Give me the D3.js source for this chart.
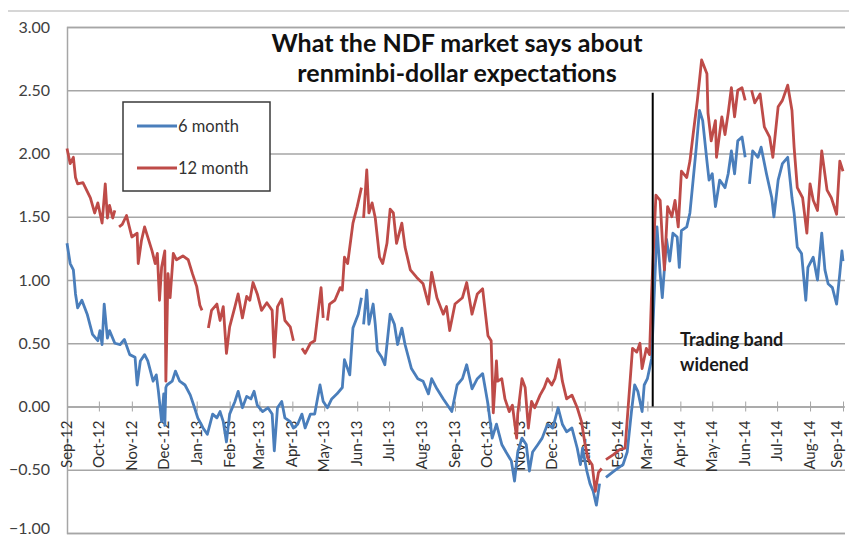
<!DOCTYPE html>
<html>
<head>
<meta charset="utf-8">
<script src="https://cdn.jsdelivr.net/npm/d3@7"></script>
<style>
  body { margin: 0; background: #fff; }
  svg { font-family: Lato, "Open Sans", sans-serif; }
</style>
</head>
<body>
<svg id="chart" width="849" height="541"></svg>
<script>
// 6 month NDF implied (%), gaps = null
const blueDates = ["2012-09-01","2012-09-04","2012-09-07","2012-09-09","2012-09-11","2012-09-15","2012-09-20","2012-09-25","2012-09-30",
  "2012-10-02","2012-10-04","2012-10-06","2012-10-09","2012-10-11","2012-10-16","2012-10-21","2012-10-25","2012-10-30",
  "2012-11-04","2012-11-06","2012-11-09","2012-11-13","2012-11-16","2012-11-21","2012-11-24","2012-11-26","2012-11-29",
  "2012-12-01","2012-12-02","2012-12-03","2012-12-04","2012-12-09","2012-12-12","2012-12-16","2012-12-21","2012-12-26","2012-12-30",
  "2013-01-02","2013-01-07","2013-01-11","2013-01-16","2013-01-20","2013-01-23","2013-01-26","2013-01-29",
  "2013-02-01","2013-02-06","2013-02-09","2013-02-13","2013-02-17","2013-02-21","2013-02-24","2013-02-27",
  "2013-03-04","2013-03-09","2013-03-13","2013-03-15","2013-03-18","2013-03-22","2013-03-25","2013-03-30",
  "2013-04-02","2013-04-06","2013-04-10","2013-04-13","2013-04-18","2013-04-22","2013-04-27","2013-04-30",
  "2013-05-04","2013-05-08","2013-05-13","2013-05-18","2013-05-20","2013-05-25","2013-05-28",
  "2013-06-02","2013-06-05","2013-06-06","2013-06-07","2013-06-10","2013-06-12","2013-06-16","2013-06-18","2013-06-20","2013-06-24","2013-06-27",
  "2013-07-02","2013-07-06","2013-07-09","2013-07-13","2013-07-16","2013-07-22","2013-07-28",
  "2013-08-02","2013-08-07","2013-08-10","2013-08-15","2013-08-21","2013-08-25","2013-08-29",
  "2013-09-03","2013-09-08","2013-09-12","2013-09-17","2013-09-22","2013-09-27",
  "2013-10-02","2013-10-06","2013-10-10","2013-10-15","2013-10-19","2013-10-24","2013-10-27","2013-10-30",
  "2013-11-03","2013-11-07","2013-11-10","2013-11-13","2013-11-18","2013-11-22","2013-11-27",
  "2013-12-02","2013-12-07","2013-12-11","2013-12-15","2013-12-20","2013-12-25","2013-12-28","2013-12-30",
  "2014-01-03","2014-01-06","2014-01-09","2014-01-12","2014-01-15","2014-01-18","2014-01-21","2014-01-27",
  "2014-02-01","2014-02-06","2014-02-10","2014-02-14","2014-02-17","2014-02-20","2014-02-24","2014-02-26",
  "2014-03-01","2014-03-05","2014-03-10","2014-03-13","2014-03-15","2014-03-19","2014-03-22","2014-03-25","2014-03-29","2014-03-31",
  "2014-04-02","2014-04-07","2014-04-10","2014-04-13","2014-04-16","2014-04-19","2014-04-22","2014-04-26","2014-04-28",
  "2014-05-01","2014-05-04","2014-05-08","2014-05-13","2014-05-16","2014-05-19","2014-05-22","2014-05-25","2014-05-29",
  "2014-06-01","2014-06-03","2014-06-05","2014-06-08","2014-06-13","2014-06-16","2014-06-21","2014-06-26","2014-06-28",
  "2014-07-02","2014-07-06","2014-07-11","2014-07-15","2014-07-17","2014-07-20","2014-07-24","2014-07-28","2014-07-30",
  "2014-08-04","2014-08-08","2014-08-12","2014-08-15","2014-08-18","2014-08-22","2014-08-26","2014-08-29","2014-08-31","2014-09-01"];
const blueValues = [1.29,1.13,1.08,0.89,0.78,0.84,0.73,0.57,0.52,
  0.60,0.49,0.81,0.54,0.60,0.50,0.49,0.53,0.41,
  0.39,0.17,0.36,0.41,0.36,0.20,0.25,0.12,-0.12,
  0.10,-0.15,0.15,0.17,0.20,0.28,0.20,0.17,0.09,-0.01,
  -0.09,-0.17,-0.22,-0.06,-0.09,-0.04,-0.12,-0.28,
  -0.06,0.04,0.12,-0.01,0.08,0.06,0.12,0.01,
  -0.04,-0.01,-0.06,-0.35,-0.01,0.04,-0.09,-0.12,
  -0.17,-0.14,-0.06,-0.17,-0.06,-0.06,0.17,0.04,
  -0.01,0.06,0.10,0.15,0.37,0.25,0.62,
  0.73,0.86,null,0.65,0.92,0.65,0.81,0.65,0.44,0.39,0.33,
  0.73,0.65,0.49,0.62,0.49,0.30,0.22,
  0.20,0.10,0.22,0.14,0.06,0.01,-0.04,
  0.17,0.22,0.33,0.14,0.22,0.26,
  0.02,-0.25,-0.14,-0.30,-0.36,-0.43,-0.59,-0.36,
  -0.25,-0.30,-0.51,-0.36,-0.30,-0.25,-0.14,
  -0.17,-0.01,-0.14,-0.20,-0.17,-0.33,-0.46,-0.33,
  -0.51,-0.61,-0.67,-0.78,-0.61,null,-0.56,-0.52,
  -0.49,-0.46,-0.36,-0.04,0.17,0.12,-0.04,0.17,
  0.22,0.38,1.42,1.05,0.86,1.32,1.15,1.37,1.34,1.10,
  1.39,1.42,1.53,1.79,2.05,2.34,2.26,1.94,1.79,
  1.84,1.58,1.79,1.73,1.84,2.02,1.84,2.10,2.13,
  1.97,null,1.76,2.02,1.97,2.05,1.84,1.65,1.50,
  1.79,1.92,1.97,1.65,1.53,1.26,1.21,0.84,1.10,
  1.18,1.00,1.37,1.08,0.97,0.94,0.81,1.05,1.23,1.15];

// 12 month NDF implied (%), gaps = null
const redDates = ["2012-09-01","2012-09-04","2012-09-07","2012-09-09","2012-09-11","2012-09-16","2012-09-23","2012-09-27","2012-09-30",
  "2012-10-04","2012-10-07","2012-10-09","2012-10-11","2012-10-14","2012-10-16","2012-10-18","2012-10-20","2012-10-23","2012-10-27",
  "2012-11-01","2012-11-06","2012-11-07","2012-11-10","2012-11-13","2012-11-20","2012-11-23","2012-11-25","2012-11-27","2012-11-29",
  "2012-12-02","2012-12-03","2012-12-05","2012-12-07","2012-12-10","2012-12-13","2012-12-19","2012-12-24","2012-12-28",
  "2013-01-01","2013-01-04","2013-01-06","2013-01-08","2013-01-12","2013-01-15","2013-01-20","2013-01-23","2013-01-26","2013-01-29",
  "2013-02-01","2013-02-06","2013-02-09","2013-02-13","2013-02-17","2013-02-20","2013-02-23","2013-02-27",
  "2013-03-03","2013-03-08","2013-03-13","2013-03-15","2013-03-18","2013-03-22","2013-03-25","2013-03-30",
  "2013-04-02","2013-04-05","2013-04-10","2013-04-13","2013-04-18","2013-04-22","2013-04-25","2013-04-28","2013-04-30",
  "2013-05-02","2013-05-04","2013-05-06","2013-05-11","2013-05-16","2013-05-18","2013-05-20","2013-05-23","2013-05-28",
  "2013-06-01","2013-06-05","2013-06-06","2013-06-07","2013-06-10","2013-06-12","2013-06-15","2013-06-18","2013-06-22","2013-06-25","2013-06-29",
  "2013-07-02","2013-07-05","2013-07-08","2013-07-13","2013-07-16","2013-07-21","2013-07-27",
  "2013-08-02","2013-08-07","2013-08-10","2013-08-15","2013-08-21","2013-08-24","2013-08-27",
  "2013-09-01","2013-09-08","2013-09-12","2013-09-17","2013-09-22","2013-09-27",
  "2013-10-02","2013-10-05","2013-10-07","2013-10-10","2013-10-11","2013-10-15","2013-10-18","2013-10-22","2013-10-25","2013-10-29","2013-10-30",
  "2013-11-03","2013-11-06","2013-11-09","2013-11-12","2013-11-15","2013-11-20","2013-11-24","2013-11-27",
  "2013-12-01","2013-12-04","2013-12-08","2013-12-11","2013-12-15","2013-12-20","2013-12-25","2013-12-29",
  "2014-01-01","2014-01-04","2014-01-08","2014-01-11","2014-01-14","2014-01-17","2014-01-19","2014-01-21","2014-01-28",
  "2014-02-03","2014-02-08","2014-02-12","2014-02-15","2014-02-19","2014-02-22","2014-02-24","2014-02-28",
  "2014-03-03","2014-03-05","2014-03-09","2014-03-13","2014-03-15","2014-03-17","2014-03-20","2014-03-24","2014-03-27","2014-03-30",
  "2014-04-02","2014-04-07","2014-04-10","2014-04-13","2014-04-17","2014-04-21","2014-04-26","2014-04-27","2014-04-30",
  "2014-05-04","2014-05-05","2014-05-10","2014-05-13","2014-05-16","2014-05-19","2014-05-22","2014-05-25","2014-05-29",
  "2014-06-01","2014-06-04","2014-06-07","2014-06-10","2014-06-15","2014-06-19","2014-06-24","2014-06-27",
  "2014-07-02","2014-07-06","2014-07-11","2014-07-15","2014-07-17","2014-07-20","2014-07-25","2014-07-29",
  "2014-08-01","2014-08-04","2014-08-08","2014-08-12","2014-08-17","2014-08-21","2014-08-26","2014-08-29","2014-09-01"];
const redValues = [2.04,1.92,1.97,1.81,1.76,1.77,1.65,1.53,1.61,
  1.45,1.76,1.49,1.59,1.49,1.55,null,1.42,1.44,1.51,
  1.34,1.37,1.13,1.31,1.42,1.23,1.13,1.21,0.84,1.10,
  1.23,0.20,1.05,0.86,1.21,1.16,1.19,1.16,1.05,
  0.95,0.80,0.76,null,0.62,0.76,0.81,0.68,0.79,0.42,
  0.63,0.79,0.89,0.70,0.87,0.84,0.98,0.89,
  0.76,0.82,0.76,0.39,0.79,0.85,0.68,0.63,
  0.52,null,0.46,0.42,0.50,0.52,0.73,0.94,0.70,
  null,0.68,0.81,0.84,0.94,0.92,1.18,1.13,1.45,
  1.58,1.73,null,1.49,1.87,1.53,1.61,1.49,1.18,1.13,1.29,
  1.56,1.53,1.29,1.45,1.26,1.08,1.02,
  0.97,0.81,1.06,0.86,0.73,0.79,0.60,
  0.81,0.86,0.98,0.73,0.89,0.93,
  0.56,0.52,-0.05,0.36,0.20,0.22,0.06,-0.04,0.01,-0.25,-0.06,
  0.22,0.15,-0.17,0.04,-0.01,0.09,0.15,0.22,
  0.17,0.22,0.37,0.20,0.06,0.09,-0.01,-0.12,
  -0.28,-0.41,-0.46,-0.67,-0.52,-0.49,null,-0.42,-0.38,
  -0.34,-0.33,0.12,0.46,0.43,0.50,0.30,0.46,
  0.41,0.91,1.67,1.63,1.32,1.08,1.58,1.50,1.63,1.42,
  1.86,1.81,1.94,2.15,2.42,2.74,2.63,2.32,2.10,
  2.26,1.97,2.29,2.15,2.32,2.52,2.29,2.50,2.52,
  2.42,null,2.50,2.40,2.47,2.21,2.13,1.97,
  2.37,2.42,2.54,2.34,2.05,1.73,1.65,1.37,
  1.76,1.63,1.55,2.02,1.71,1.65,1.52,1.94,1.86];

const yTicks = [-1, -0.5, 0, 0.5, 1, 1.5, 2, 2.5, 3];
const seriesNames = ["6 month", "12 month"];
const seriesColors = ["#4a7ebb", "#be4b48"];
const bandDate = "2014-03-06";
const bandTop = 2.48;

const parse = d3.timeParse("%Y-%m-%d");
const svg = d3.select("#chart");

const x = d3.scaleTime()
  .domain([parse("2012-09-01"), parse("2014-09-01")])
  .range([67, 843]);
const y = d3.scaleLinear().domain([-1, 3]).range([533, 27]);

// top frame line
svg.append("line")
  .attr("x1", 8).attr("x2", 849).attr("y1", 11).attr("y2", 11)
  .attr("stroke", "#c8c8c8").attr("stroke-width", 1.5);

// y axis + gridlines
svg.append("g")
  .attr("transform", "translate(67,0)")
  .call(d3.axisLeft(y).tickValues(yTicks).tickFormat(d3.format(".2f"))
    .tickSize(-778).tickPadding(17))
  .call((g) => g.select(".domain").attr("stroke", "#a6a6a6").attr("stroke-width", 1.5))
  .call((g) => g.selectAll(".tick line").attr("stroke", "#a6a6a6").attr("stroke-width", 1.5))
  .call((g) => g.selectAll(".tick text")
    .attr("font-size", 16).attr("fill", "#404040")
    .attr("font-family", "Lato, sans-serif")
    // bottom label sits on the lower edge: lift it a touch
    .attr("dy", (d) => (d === -1 ? "0.05em" : "0.32em")));

// x axis on the zero line
const monthTicks = x.ticks(d3.timeMonth.every(1));
svg.append("g")
  .attr("transform", `translate(0,${y(0)})`)
  .call(d3.axisBottom(x).tickValues(monthTicks)
    .tickFormat(d3.timeFormat("%b-%y")).tickSize(5).tickSizeOuter(0))
  .call((g) => g.select(".domain").attr("stroke", "#a6a6a6").attr("stroke-width", 1.5))
  .call((g) => g.selectAll(".tick line").attr("stroke", "#a6a6a6").attr("y1", -5))
  .call((g) => g.selectAll(".tick text")
    .attr("transform", "rotate(-90)")
    .attr("text-anchor", "end")
    .attr("x", -14).attr("y", 0)
    // last label sits on the right edge: pull it in a little
    .attr("dy", (d, i) => (i === monthTicks.length - 1 ? "-0.1em" : "0.3em"))
    .attr("font-size", 15).attr("fill", "#303030")
    .attr("font-family", "Lato, sans-serif"));

// series
const blue = blueDates.map((d, i) => ({ date: parse(d), v: blueValues[i] }));
const red = redDates.map((d, i) => ({ date: parse(d), v: redValues[i] }));

const line = d3.line()
  .defined((d) => d.v !== null)
  .x((d) => x(d.date))
  .y((d) => y(d.v));

[blue, red].forEach((s, i) => {
  svg.append("path")
    .datum(s)
    .attr("fill", "none")
    .attr("stroke", seriesColors[i])
    .attr("stroke-width", 2.8)
    .attr("stroke-linejoin", "round")
    .attr("d", line);
});

// band widening marker
svg.append("line")
  .attr("x1", x(parse(bandDate))).attr("x2", x(parse(bandDate)))
  .attr("y1", y(bandTop)).attr("y2", y(0))
  .attr("stroke", "#000").attr("stroke-width", 2);

svg.append("text")
  .attr("font-size", 18).attr("font-weight", "bold").attr("fill", "#1a1a1a")
  .selectAll("tspan")
  .data(["Trading band", "widened"])
  .join("tspan")
  .attr("x", 680)
  .attr("y", (d, i) => 346 + i * 25)
  .text((d) => d);

// title
svg.append("text")
  .attr("text-anchor", "middle")
  .attr("font-size", 25).attr("font-weight", "bold").attr("fill", "#111")
  .selectAll("tspan")
  .data(["What the NDF market says about", "renminbi-dollar expectations"])
  .join("tspan")
  .attr("x", 457)
  .attr("y", (d, i) => 52 + i * 30)
  .text((d) => d);

// legend
const legend = svg.append("g");
legend.append("rect")
  .attr("x", 123).attr("y", 102).attr("width", 147).attr("height", 89)
  .attr("fill", "#fff").attr("stroke", "#3a3a3a").attr("stroke-width", 1.5);
seriesNames.forEach((name, i) => {
  const ly = 126 + i * 42;
  legend.append("line")
    .attr("x1", 137).attr("x2", 177).attr("y1", ly).attr("y2", ly)
    .attr("stroke", seriesColors[i]).attr("stroke-width", 2.8);
  legend.append("text")
    .attr("x", 178).attr("y", ly).attr("dy", "0.35em")
    .attr("font-size", 16.5).attr("fill", "#333")
    .text(name);
});
</script>
</body>
</html>
